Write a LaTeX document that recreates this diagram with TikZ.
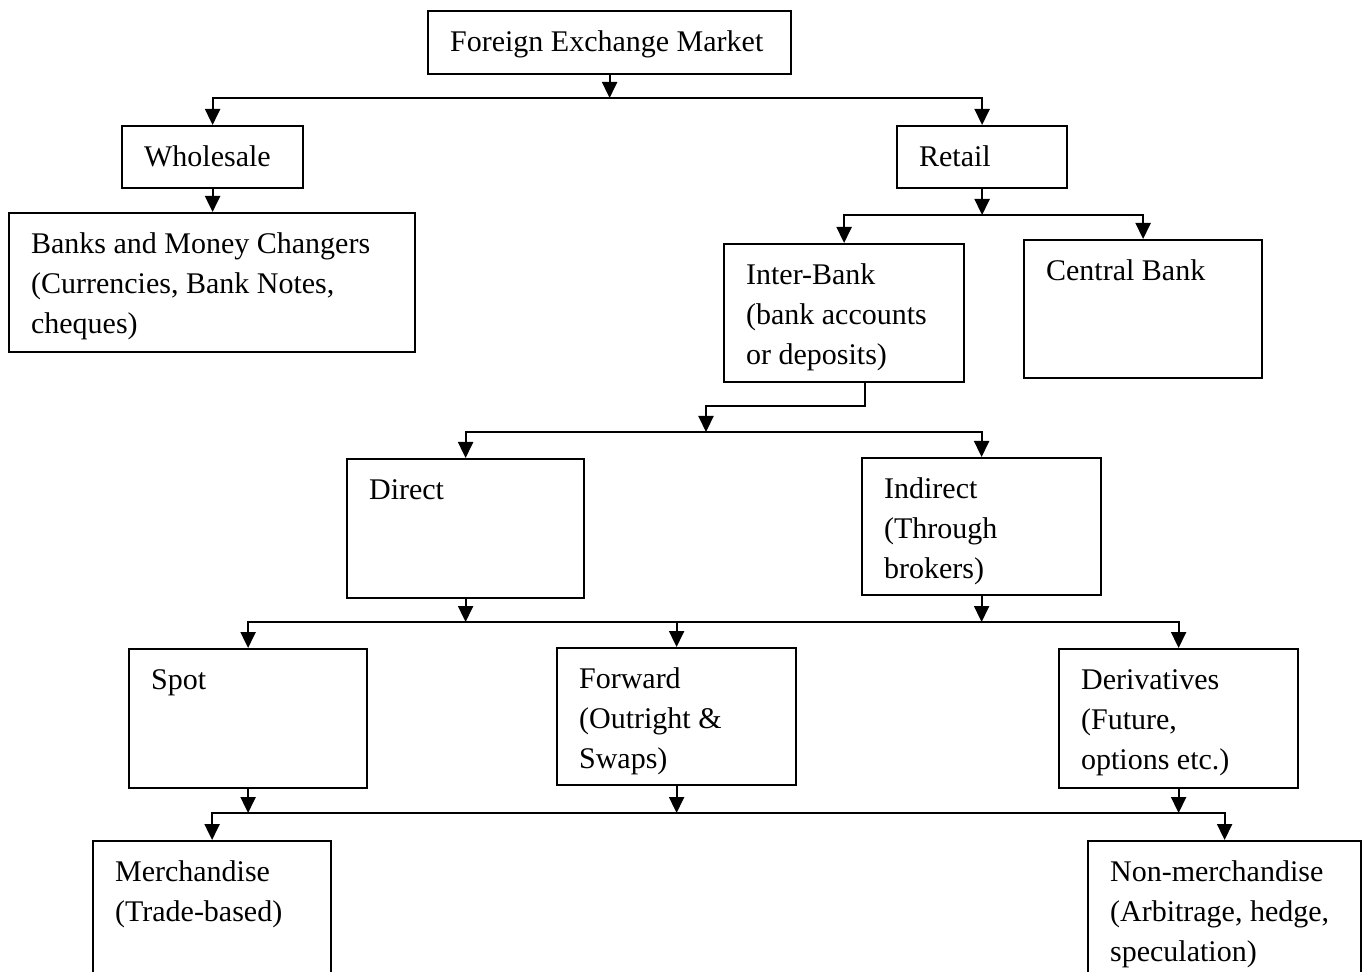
\documentclass[tikz,border=0pt]{standalone}
\usepackage{fontspec}
\setmainfont{Liberation Serif}
\usetikzlibrary{arrows.meta}

\begin{document}
\begin{tikzpicture}[
  x=0.5pt, y=-0.5pt,
  every node/.style={draw, line width=1.1pt, anchor=north west, align=flush left,
    inner xsep=11pt, inner ysep=10pt, text height=10pt,
    font=\fontsize{15pt}{20pt}\selectfont},
  arrow/.style={-{Triangle[length=8pt, width=7.5pt]}, line width=1.1pt}
]
\useasboundingbox (0,0) rectangle (1364,972);
\clip (0,0) rectangle (1364,972);

\node[text width=159.5pt, text depth=1.5pt] (market) at (427,10) {Foreign Exchange Market};
\node[text width=68.5pt, text depth=1pt] (wholesale) at (121,125) {Wholesale};
\node[text width=63pt, text depth=1pt] (retail) at (896,125) {Retail};
\node[text width=181pt, text depth=39.5pt] (banks) at (8,212) {Banks and Money Changers\\(Currencies, Bank Notes,\\cheques)};
\node[text width=98pt, text depth=39pt] (interbank) at (723,243) {Inter-Bank\\(bank accounts\\or deposits)};
\node[text width=97pt, text depth=39pt] (central) at (1023,239) {Central Bank};
\node[text width=96.5pt, text depth=39.5pt] (direct) at (346,458) {Direct};
\node[text width=97.5pt, text depth=38.5pt] (indirect) at (861,457) {Indirect\\(Through\\brokers)};
\node[text width=97pt, text depth=39.5pt] (spot) at (128,648) {Spot};
\node[text width=97.5pt, text depth=38.5pt] (forward) at (556,647) {Forward\\(Outright \&\\Swaps)};
\node[text width=97.5pt, text depth=39.5pt] (derivatives) at (1058,648) {Derivatives\\(Future,\\options etc.)};
\node[text width=97pt, text depth=50pt] (merch) at (92,840) {Merchandise\\(Trade-based)};
\node[text width=114.5pt, text depth=50pt] (nonmerch) at (1087,840) {Non-merchandise\\(Arbitrage, hedge,\\speculation)};

\coordinate (bar1) at (0,98);
\coordinate (bar2) at (0,215);
\coordinate (turn) at (706,406);
\coordinate (bar3) at (0,432);
\coordinate (bar4) at (0,622);
\coordinate (bar5) at (0,813);

\draw[arrow] (market.south) -- (market.south |- bar1);
\draw[arrow] (market.south |- bar1) -| (wholesale.north);
\draw[arrow] (market.south |- bar1) -| (retail.north);
\draw[arrow] (wholesale.south) -- (wholesale.south |- banks.north);
\draw[arrow] (retail.south) -- (retail.south |- bar2);
\draw[arrow] (retail.south |- bar2) -| (interbank.north);
\draw[arrow] (retail.south |- bar2) -| (central.north);
\draw[arrow] ([xshift=10.5pt]interbank.south) |- (turn) -- (turn |- bar3);
\draw[arrow] (turn |- bar3) -| (direct.north);
\draw[arrow] (turn |- bar3) -| (indirect.north);
\draw[arrow] (direct.south) -- (direct.south |- bar4);
\draw[arrow] (indirect.south) -- (indirect.south |- bar4);
\draw[arrow] (forward.north |- bar4) -| (spot.north);
\draw[arrow] (forward.north |- bar4) -- (forward.north);
\draw[arrow] (forward.north |- bar4) -| (derivatives.north);
\draw[arrow] (spot.south) -- (spot.south |- bar5);
\draw[arrow] (forward.south) -- (forward.south |- bar5);
\draw[arrow] (derivatives.south) -- (derivatives.south |- bar5);
\draw[arrow] (forward.south |- bar5) -| (merch.north);
\draw[arrow] (forward.south |- bar5) -| (nonmerch.north);
\end{tikzpicture}
\end{document}
